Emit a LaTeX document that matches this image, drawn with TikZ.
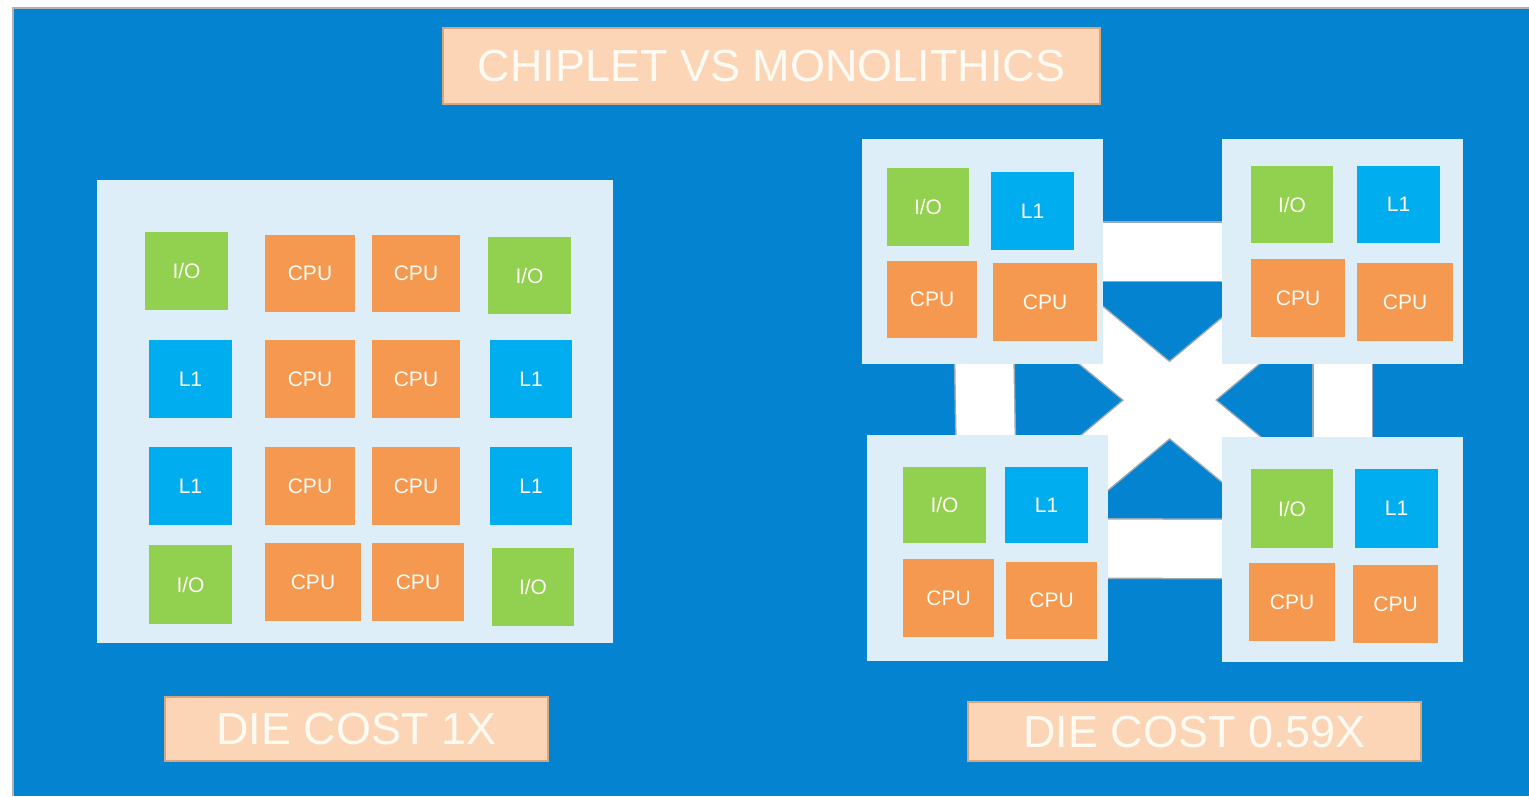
\documentclass[tikz,border=0pt]{standalone}
\usepackage{fontspec}
\setmainfont{Liberation Sans}
\definecolor{bgblue}{HTML}{0383D0}
\definecolor{panel}{HTML}{DDEEF9}
\definecolor{iogreen}{HTML}{92D050}
\definecolor{lblue}{HTML}{00AEEF}
\definecolor{cpuor}{HTML}{F4994F}
\definecolor{peach}{HTML}{FBD5B5}
\definecolor{peachedge}{HTML}{D6A77E}
\definecolor{bargray}{HTML}{9AA9B6}
\definecolor{txt}{HTML}{FFFAF2}
\tikzset{
 sz/.style 2 args={minimum width=#1pt, minimum height=#2pt},
 blk/.style={inner sep=0pt, text=txt, font=\fontsize{21}{21}\selectfont},
 io/.style={blk, fill=iogreen},
 lone/.style={blk, fill=lblue},
 cpu/.style={blk, fill=cpuor},
 pnl/.style={fill=panel, inner sep=0pt},
 lbl/.style={fill=peach, draw=peachedge, line width=1.5pt, text=txt, font=\fontsize{45}{45}\selectfont, inner sep=0pt},
 baredge/.style={draw=bargray, line width=61pt},
 barfill/.style={draw=white, line width=58pt},
}
\begin{document}
\begin{tikzpicture}[x=1pt,y=-1pt]
\useasboundingbox (0,0) rectangle (1529,796);
\fill[white] (0,0) rectangle (1529,796);
\fill[bgblue] (13,8) rectangle (1529,796);
\draw[gray!60, line width=1.5pt] (13,796) -- (13,8) -- (1529,8);

% title and cost labels
\node[lbl, sz={657}{76}] (title) at (771.5,66) {CHIPLET VS MONOLITHICS};
\node[lbl, sz={383}{64}] (cost1) at (356.5,729) {DIE COST 1X};
\node[lbl, sz={453}{59}] (cost2) at (1194.5,731.5) {DIE COST 0.59X};

% monolithic die
\node[pnl, sz={516}{463}] (mono) at (355,411.5) {};
\node[io, sz={83}{78}] (m11) at (186.5,271) {I/O};
\node[lone, sz={83}{78}] (m21) at (190.5,379) {L1};
\node[lone, sz={83}{78}] (m31) at (190.5,486) {L1};
\node[io, sz={83}{79}] (m41) at (190.5,584.5) {I/O};
\node[cpu, sz={90}{77}] (m12) at (310,273.5) {CPU};
\node[cpu, sz={90}{78}] (m22) at (310,379) {CPU};
\node[cpu, sz={90}{78}] (m32) at (310,486) {CPU};
\node[cpu, sz={96}{78}] (m42) at (313,582) {CPU};
\node[cpu, sz={88}{77}] (m13) at (416,273.5) {CPU};
\node[cpu, sz={88}{78}] (m23) at (416,379) {CPU};
\node[cpu, sz={88}{78}] (m33) at (416,486) {CPU};
\node[cpu, sz={92}{78}] (m43) at (418,582) {CPU};
\node[io, sz={83}{77}] (m14) at (529.5,275.5) {I/O};
\node[lone, sz={82}{78}] (m24) at (531,379) {L1};
\node[lone, sz={82}{78}] (m34) at (531,486) {L1};
\node[io, sz={82}{78}] (m44) at (533,587) {I/O};

% chiplet panel anchors
\coordinate (ctl) at (982.5,251.5);
\coordinate (ctr) at (1342.5,251.5);
\coordinate (cbl) at (987.5,548);
\coordinate (cbr) at (1342.5,549.5);
% diagonal link ends (hidden under the chiplets)
\coordinate (dtl) at (990,251.5);
\coordinate (dbr) at (1350,549.5);
\coordinate (dtr) at (1347.5,251.5);
\coordinate (dbl) at (992.5,548);

% interconnect bars
\foreach \a/\b in {ctl/ctr, cbl/cbr, ctl/cbl, ctr/cbr, dtl/dbr, dtr/dbl}
  \draw[baredge] (\a) -- (\b);
\foreach \a/\b in {ctl/ctr, cbl/cbr, ctl/cbl, ctr/cbr, dtl/dbr, dtr/dbl}
  \draw[barfill] (\a) -- (\b);

% chiplets
\node[pnl, sz={241}{225}] (tl) at (ctl) {};
\node[io, sz={82}{78}] (tlio) at (928,207) {I/O};
\node[lone, sz={83}{78}] (tll1) at (1032.5,211) {L1};
\node[cpu, sz={90}{77}] (tlc1) at (932,299.5) {CPU};
\node[cpu, sz={104}{78}] (tlc2) at (1045,302) {CPU};

\node[pnl, sz={241}{225}] (tr) at (ctr) {};
\node[io, sz={82}{77}] (trio) at (1292,204.5) {I/O};
\node[lone, sz={83}{77}] (trl1) at (1398.5,204.5) {L1};
\node[cpu, sz={94}{78}] (trc1) at (1298,298) {CPU};
\node[cpu, sz={96}{78}] (trc2) at (1405,302) {CPU};

\node[pnl, sz={241}{226}] (bl) at (cbl) {};
\node[io, sz={83}{76}] (blio) at (944.5,505) {I/O};
\node[lone, sz={83}{76}] (bll1) at (1046.5,505) {L1};
\node[cpu, sz={91}{78}] (blc1) at (948.5,598) {CPU};
\node[cpu, sz={91}{77}] (blc2) at (1051.5,600.5) {CPU};

\node[pnl, sz={241}{225}] (br) at (cbr) {};
\node[io, sz={82}{79}] (brio) at (1292,508.5) {I/O};
\node[lone, sz={83}{79}] (brl1) at (1396.5,508.5) {L1};
\node[cpu, sz={86}{78}] (brc1) at (1292,602) {CPU};
\node[cpu, sz={85}{78}] (brc2) at (1395.5,604) {CPU};
\end{tikzpicture}
\end{document}
